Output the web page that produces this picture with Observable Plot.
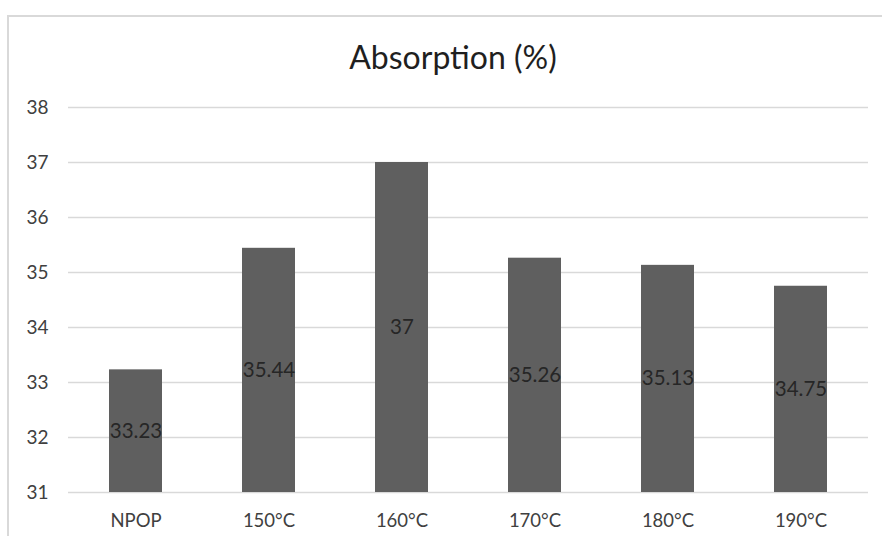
<!DOCTYPE html>
<html>
<head>
<meta charset="utf-8">
<script src="https://cdn.jsdelivr.net/npm/d3@7"></script>
<script src="https://cdn.jsdelivr.net/npm/@observablehq/plot@0.6"></script>
<style>
  html, body { margin: 0; padding: 0; background: #fff; width: 882px; height: 536px; overflow: hidden; }
  #frame { position: absolute; left: 7px; top: 15px; width: 900px; height: 560px; border: 2px solid #d9d9d9; box-sizing: border-box; }
  #title { position: absolute; left: 0; width: 906px; top: 37px; text-align: center; font-family: Lato, "Open Sans", sans-serif; font-size: 32px; color: #1f1f1f; }
  #chart { position: absolute; left: 0; top: 85px; }
</style>
</head>
<body>
<div id="frame"></div>
<div id="title">Absorption (%)</div>
<div id="chart"></div>
<script>
const categories = ["NPOP", "150°C", "160°C", "170°C", "180°C", "190°C"];
const values = [33.23, 35.44, 37, 35.26, 35.13, 34.75];
const labels = ["33.23", "35.44", "37", "35.26", "35.13", "34.75"];
const yTicks = [31, 32, 33, 34, 35, 36, 37, 38];
const yMin = 31;

const data = categories.map((c, i) => ({ cat: c, v: values[i], label: labels[i] }));

const chart = Plot.plot({
  width: 882,
  height: 451,
  marginTop: 22,
  marginBottom: 44,
  marginLeft: 68,
  marginRight: 14,
  style: { fontFamily: "Lato, 'Open Sans', sans-serif", background: "transparent" },
  x: { domain: categories, paddingInner: 0.6, paddingOuter: 0.3, label: null },
  y: { domain: [31, 38], label: null },
  marks: [
    Plot.ruleY(yTicks, { stroke: "#d9d9d9", strokeWidth: 1.5 }),
    Plot.barY(data, { x: "cat", y1: yMin, y2: "v", fill: "#5f5f5f" }),
    Plot.text(data, { x: "cat", y: d => (yMin + d.v) / 2, text: "label", fill: "#262626", fontSize: 20.5 }),
    Plot.axisY(yTicks, { tickSize: 0, tickPadding: 20, fontSize: 19, color: "#404040", tickFormat: d3.format("d"), label: null }),
    Plot.axisX({ tickSize: 0, tickPadding: 21, fontSize: 18.5, color: "#404040", label: null })
  ]
});
document.getElementById("chart").appendChild(chart);
</script>
</body>
</html>
